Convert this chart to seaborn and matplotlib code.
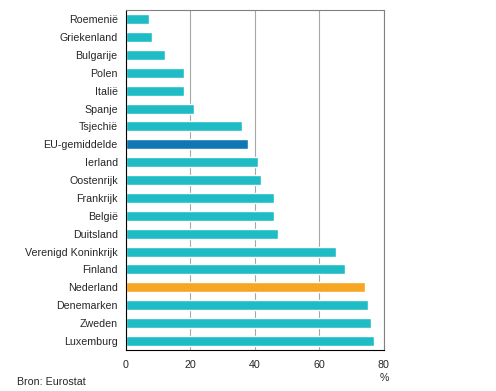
import matplotlib
matplotlib.use("Agg")
import matplotlib.pyplot as plt
import seaborn as sns
import pandas as pd

# Data
countries = [
    "Roemenië", "Griekenland", "Bulgarije", "Polen", "Italië", "Spanje",
    "Tsjechië", "EU-gemiddelde", "Ierland", "Oostenrijk", "Frankrijk",
    "België", "Duitsland", "Verenigd Koninkrijk", "Finland", "Nederland",
    "Denemarken", "Zweden", "Luxemburg",
]
values = [7, 8, 12, 18, 18, 21, 36, 38, 41, 42, 46, 46, 47, 65, 68, 74, 75, 76, 77]
groups = ["land"] * 7 + ["eu"] + ["land"] * 7 + ["nl"] + ["land"] * 3
x_ticks = [0, 20, 40, 60, 80]

palette = {"land": "#20bcc6", "eu": "#0f78b4", "nl": "#f6a623"}
FS = 7.7

df = pd.DataFrame({"land": countries, "waarde": values, "groep": groups})

sns.set_style("white")
plt.rcParams["font.family"] = ["Liberation Sans", "DejaVu Sans"]

fig = plt.figure(figsize=(4.96, 3.91), dpi=100)
ax = fig.add_axes([0.254, 0.105, 0.52, 0.869])

sns.barplot(data=df, y="land", x="waarde", hue="groep", palette=palette,
            order=countries, dodge=False, legend=False, width=0.56,
            saturation=1, ax=ax)

ax.set_xlim(0, 80)
ax.set_ylim(len(countries) - 0.5, -0.5)
ax.set_xticks(x_ticks)
ax.set_xticklabels([str(t) for t in x_ticks], fontsize=FS)
ax.tick_params(axis="y", length=0, labelsize=FS, pad=6)
ax.tick_params(axis="x", direction="out", length=4, width=0.8, color="black", pad=3)
ax.set_xlabel("")
ax.set_ylabel("")

ax.grid(axis="x", color="#a6a6a6", linewidth=0.8)
ax.set_axisbelow(True)

for side in ["top", "right"]:
    ax.spines[side].set_color("#808080")
    ax.spines[side].set_linewidth(0.8)
for side in ["left", "bottom"]:
    ax.spines[side].set_color("black")
    ax.spines[side].set_linewidth(0.8)

fig.text(384 / 496, 1 - 378 / 391, "%", ha="center", va="center", fontsize=FS)
fig.text(17 / 496, 1 - 382 / 391, "Bron: Eurostat", ha="left", va="center", fontsize=FS)

fig.savefig("out.png", dpi=100)
